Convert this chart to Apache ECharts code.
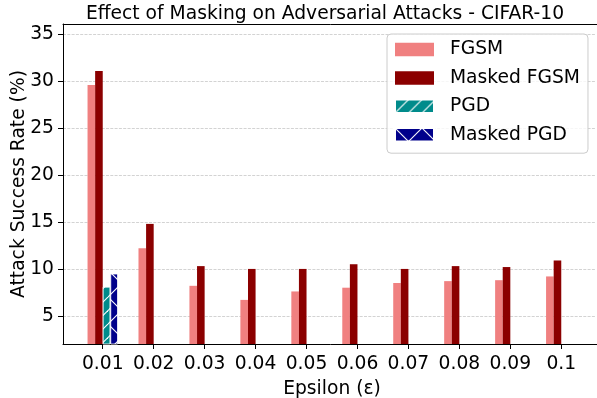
<!DOCTYPE html>
<html>
<head>
<meta charset="utf-8">
<script src="https://cdn.jsdelivr.net/npm/echarts@6/dist/echarts.min.js"></script>
<style>
  html, body { margin: 0; padding: 0; background: #fff; overflow: hidden; }
  #chart { width: 597px; height: 398px; }
</style>
</head>
<body>
<div id="chart"></div>
<script>
// Epsilon values on the x axis
const epsilons = ['0.01', '0.02', '0.03', '0.04', '0.05', '0.06', '0.07', '0.08', '0.09', '0.1'];
// Attack success rate (%) per epsilon
const fgsm       = [29.6, 12.2, 8.2, 6.7, 7.6, 8.0, 8.5, 8.7, 8.8, 9.2];
const maskedFgsm = [31.1, 14.8, 10.3, 10.0, 10.0, 10.5, 10.0, 10.3, 10.2, 10.9];
const pgd        = [8.1, null, null, null, null, null, null, null, null, null];
const maskedPgd  = [9.5, null, null, null, null, null, null, null, null, null];
// Y tick values
const yTicks = [5, 10, 15, 20, 25, 30, 35];

const FONT = 'DejaVu Sans';
const FS = 18.7;
const X_MIN = -0.78, X_MAX = 9.78;

// Hatch fill tiles (white lines over a solid colour)
function hatch(bg, dirs, spacing) {
  const size = 27;
  const c = document.createElement('canvas');
  c.width = size; c.height = size;
  const g = c.getContext('2d');
  g.fillStyle = bg;
  g.fillRect(0, 0, size, size);
  g.strokeStyle = '#ffffff';
  g.lineWidth = 1.1;
  for (let k = -size; k <= 2 * size; k += spacing) {
    if (dirs.indexOf('/') >= 0) {
      g.beginPath(); g.moveTo(k + size, -size); g.lineTo(k - size, size); g.stroke();
    }
    if (dirs.indexOf('\\') >= 0) {
      g.beginPath(); g.moveTo(k - size, -size); g.lineTo(k + size, size); g.stroke();
    }
  }
  return { image: c, repeat: 'repeat' };
}

function seriesData(values) {
  return values.map((v, i) => [i, v]);
}

const chart = echarts.init(document.getElementById('chart'), null, { renderer: 'canvas' });

const barBase = { type: 'bar', barWidth: 7.6, barGap: '0%' };
const tickIdx = epsilons.map((_, i) => i);

chart.setOption({
  animation: false,
  backgroundColor: '#ffffff',
  textStyle: { fontFamily: FONT },
  title: {
    text: 'Effect of Masking on Adversarial Attacks - CIFAR-10',
    left: 320,
    top: 0,
    textAlign: 'center',
    textStyle: { fontFamily: FONT, fontSize: FS, fontWeight: 'normal', color: '#000' }
  },
  grid: {
    left: 63, top: 24, right: -4, bottom: 54,
    outerBoundsMode: 'none',
    containLabel: false,
    show: false
  },
  legend: {
    orient: 'vertical',
    left: 387, top: 34,
    padding: [6, 8, 9, 7],
    itemWidth: 39, itemHeight: 13.5, itemGap: 9.4,
    icon: 'rect',
    backgroundColor: 'rgba(255,255,255,0.8)',
    borderColor: '#cccccc', borderWidth: 1, borderRadius: 4,
    textStyle: { fontFamily: FONT, fontSize: FS, color: '#000', padding: [0, 0, 0, 11] },
    data: ['FGSM', 'Masked FGSM', 'PGD', 'Masked PGD']
  },
  xAxis: [{
    type: 'value',
    min: X_MIN, max: X_MAX,
    name: 'Epsilon (ε)',
    nameLocation: 'middle',
    nameGap: 36,
    nameMoveOverlap: false,
    nameTextStyle: { fontFamily: FONT, fontSize: FS, color: '#000' },
    axisLine: { show: true, onZero: false, lineStyle: { color: '#000', width: 1 } },
    axisTick: { show: true, length: 5, lineStyle: { color: '#000', width: 1 }, customValues: tickIdx },
    axisLabel: {
      show: true, margin: 11, color: '#000', fontFamily: FONT, fontSize: FS,
      customValues: tickIdx,
      formatter: v => epsilons[Math.round(v)]
    },
    splitLine: { show: false }
  }, {
    // top frame line
    type: 'value',
    position: 'top',
    min: X_MIN, max: X_MAX,
    axisLine: { show: true, onZero: false, lineStyle: { color: '#000', width: 1 } },
    axisTick: { show: false },
    axisLabel: { show: false },
    splitLine: { show: false }
  }],
  yAxis: {
    type: 'value',
    min: 2, max: 36.1,
    name: 'Attack Success Rate (%)',
    nameLocation: 'middle',
    nameGap: 34,
    nameMoveOverlap: false,
    nameTextStyle: { fontFamily: FONT, fontSize: FS, color: '#000' },
    axisLine: { show: true, onZero: false, lineStyle: { color: '#000', width: 1 } },
    axisTick: { show: true, length: 5, lineStyle: { color: '#000', width: 1 }, customValues: yTicks },
    axisLabel: { show: true, margin: 9, color: '#000', fontFamily: FONT, fontSize: FS, customValues: yTicks },
    splitLine: { show: true, lineStyle: { color: '#b0b0b0', opacity: 0.7, type: [3, 1.3], width: 0.8 } }
  },
  // keep the open right side of the frame clean
  graphic: [{
    type: 'rect', right: 0, top: 25, z: 100,
    shape: { width: 1.5, height: 318 },
    style: { fill: '#ffffff' },
    silent: true
  }],
  series: [
    Object.assign({}, barBase, { name: 'FGSM', data: seriesData(fgsm), itemStyle: { color: '#F08080' } }),
    Object.assign({}, barBase, { name: 'Masked FGSM', data: seriesData(maskedFgsm), itemStyle: { color: '#8B0000' } }),
    Object.assign({}, barBase, { name: 'PGD', data: seriesData(pgd), itemStyle: { color: hatch('#008B8B', '/', 13.5), borderColor: '#fff', borderWidth: 0.8 } }),
    Object.assign({}, barBase, { name: 'Masked PGD', data: seriesData(maskedPgd), itemStyle: { color: hatch('#00008B', '/\\', 27), borderColor: '#fff', borderWidth: 0.8 } })
  ]
});
</script>
</body>
</html>
